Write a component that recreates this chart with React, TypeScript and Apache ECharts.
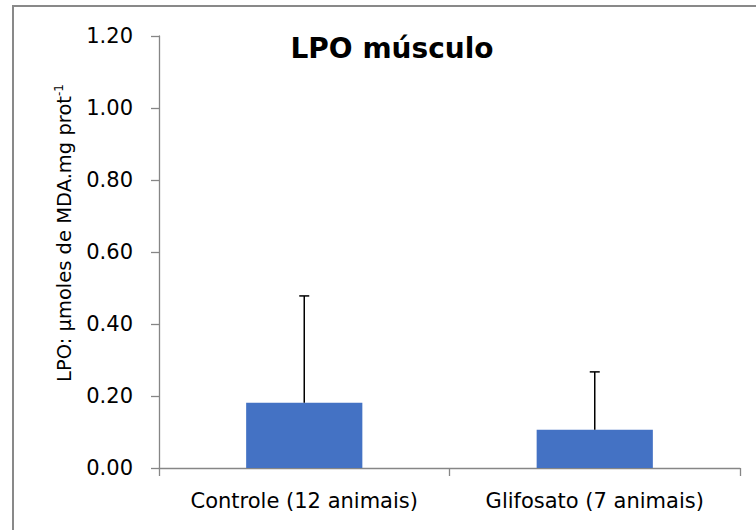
import React, { useEffect, useRef } from 'react';
import * as echarts from 'echarts';

const categories = ['Controle (12 animais)', 'Glifosato (7 animais)'];
const means = [0.181, 0.106];
const sds = [0.297, 0.161];
const yMin = 0;
const yMax = 1.2;
const yInterval = 0.2;
const titleText = 'LPO músculo';
const yName = 'LPO: µmoles de MDA.mg prot';
const ySup = '-1';

const FONT = 'DejaVu Sans';

export default function App() {
  const ref = useRef<HTMLDivElement>(null);
  useEffect(() => {
    if (!ref.current) return;
    const chart = echarts.init(ref.current, null, { renderer: 'svg' });
    chart.setOption({
      animation: false,
      backgroundColor: '#fff',
      grid: { left: 159, right: 16, top: 36, bottom: 62, containLabel: false },
      title: {
        text: titleText,
        left: 387,
        top: 29,
        textAlign: 'center',
        textStyle: { fontFamily: FONT, fontWeight: 'bold', fontSize: 28, color: '#000' },
      },
      graphic: [
        {
          type: 'rect',
          silent: true,
          z: -10,
          shape: { x: 13, y: 6, width: 800, height: 600 },
          style: { fill: 'none', stroke: '#898989', lineWidth: 2 },
        },
        {
          type: 'text',
          x: 64,
          y: 233,
          rotation: Math.PI / 2,
          silent: true,
          style: {
            text: `{a|${yName}}{s|${ySup}}`,
            align: 'center',
            verticalAlign: 'middle',
            rich: {
              a: { fontFamily: FONT, fontSize: 19.5, fill: '#000', color: '#000' },
              s: { fontFamily: FONT, fontSize: 12, fill: '#000', color: '#000', verticalAlign: 'top', padding: [0, 0, 10, 0] },
            },
          },
        },
      ],
      xAxis: {
        type: 'category',
        data: categories,
        axisLine: { lineStyle: { color: '#868686', width: 1.3 } },
        axisTick: { show: true, alignWithLabel: false, interval: 0, length: 8, lineStyle: { color: '#868686', width: 1.3 } },
        axisLabel: { interval: 0, hideOverlap: false, fontFamily: FONT, fontSize: 21, color: '#000', margin: 22 },
      },
      yAxis: {
        type: 'value',
        min: yMin,
        max: yMax,
        interval: yInterval,
        splitLine: { show: false },
        axisLine: { show: true, lineStyle: { color: '#868686', width: 1.3 } },
        axisTick: { show: true, length: 8, lineStyle: { color: '#868686', width: 1.3 } },
        axisLabel: {
          fontFamily: FONT,
          fontSize: 21,
          color: '#000',
          margin: 26,
          formatter: (v: number) => v.toFixed(2),
        },
      },
      series: [
        {
          type: 'bar',
          data: means,
          barWidth: '40%',
          itemStyle: { color: '#4472C4' },
          z: 2,
        },
        {
          type: 'custom',
          z: 3,
          data: categories.map((_, i) => [i, means[i], sds[i]]),
          renderItem: (params: any, api: any) => {
            const x = api.value(0);
            const m = api.value(1);
            const s = api.value(2);
            const p0 = api.coord([x, m]);
            const p1 = api.coord([x, m + s]);
            const cap = 5;
            const st = { stroke: '#000', lineWidth: 1.5 };
            return {
              type: 'group',
              children: [
                { type: 'line', shape: { x1: p0[0], y1: p0[1], x2: p1[0], y2: p1[1] }, style: st },
                { type: 'line', shape: { x1: p1[0] - cap, y1: p1[1], x2: p1[0] + cap, y2: p1[1] }, style: st },
              ],
            };
          },
        },
      ],
    });
    return () => chart.dispose();
  }, []);
  return (
    <div
      ref={ref}
      style={{ position: 'absolute', left: 0, top: 0, width: 756, height: 530 }}
    />
  );
}
